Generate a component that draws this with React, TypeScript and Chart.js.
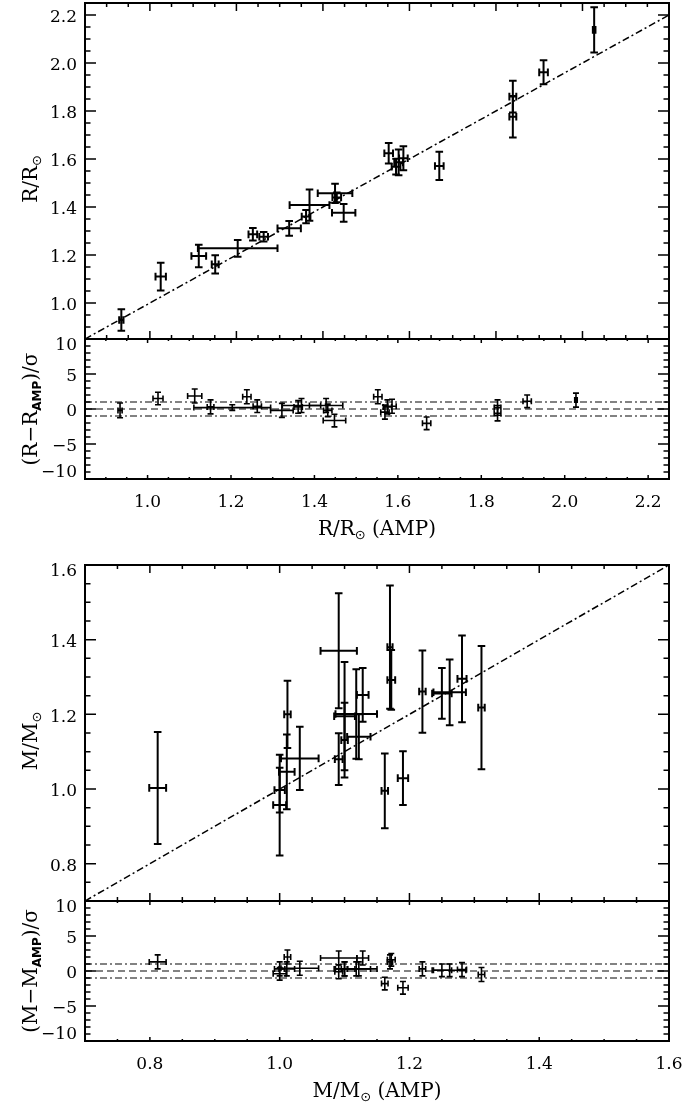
import React, { useEffect, useRef } from "react";
import { Chart, registerables } from "chart.js";

Chart.register(...registerables);

// ---------------- Radius comparison (top half) ----------------
const rAmp = [0.934, 1.025, 1.113, 1.151, 1.203, 1.238, 1.263, 1.322, 1.361, 1.369, 1.428, 1.432, 1.448, 1.552, 1.569, 1.575, 1.586, 1.669, 1.839, 1.839, 1.91, 2.027];
const rAmpErr = [0.005, 0.012, 0.017, 0.008, 0.092, 0.01, 0.01, 0.027, 0.01, 0.046, 0.04, 0.01, 0.027, 0.01, 0.01, 0.01, 0.01, 0.01, 0.008, 0.008, 0.01, 0.003];
const rObs = [0.929, 1.11, 1.196, 1.161, 1.228, 1.286, 1.276, 1.311, 1.36, 1.408, 1.457, 1.44, 1.376, 1.624, 1.568, 1.586, 1.603, 1.571, 1.86, 1.776, 1.961, 2.138];
const rObsErr = [0.045, 0.058, 0.047, 0.038, 0.035, 0.026, 0.02, 0.031, 0.028, 0.065, 0.04, 0.02, 0.037, 0.043, 0.033, 0.054, 0.05, 0.059, 0.066, 0.086, 0.05, 0.094];
const rResid = [-0.2, 1.5, 1.85, 0.3, 0.2, 1.75, 0.4, -0.2, 0.3, 0.5, 0.5, -0.2, -1.65, 1.75, -0.45, 0.3, 0.4, -2.05, 0.2, -0.6, 1.1, 1.27];
const rResidErr = [1.05, 0.9, 1.0, 1.0, 0.4, 1.0, 0.9, 1.0, 0.9, 1.0, 1.0, 0.9, 0.9, 1.0, 1.0, 1.0, 1.0, 0.9, 1.1, 1.1, 0.9, 1.0];

// ---------------- Mass comparison (bottom half) ----------------
const mAmp = [0.812, 1.0, 1.0, 1.011, 1.012, 1.031, 1.091, 1.091, 1.1, 1.1, 1.128, 1.118, 1.122, 1.17, 1.172, 1.162, 1.19, 1.22, 1.25, 1.262, 1.281, 1.311];
const mAmpErr = [0.013, 0.01, 0.008, 0.012, 0.005, 0.029, 0.028, 0.006, 0.016, 0.005, 0.009, 0.032, 0.018, 0.004, 0.006, 0.005, 0.008, 0.005, 0.015, 0.025, 0.007, 0.005];
const mObs = [1.003, 0.957, 0.997, 1.046, 1.2, 1.082, 1.37, 1.08, 1.195, 1.131, 1.252, 1.201, 1.14, 1.38, 1.292, 0.995, 1.029, 1.261, 1.256, 1.259, 1.295, 1.218];
const mObsErr = [0.15, 0.135, 0.06, 0.1, 0.09, 0.085, 0.154, 0.069, 0.145, 0.1, 0.072, 0.12, 0.06, 0.165, 0.08, 0.1, 0.072, 0.11, 0.068, 0.088, 0.116, 0.165];
const mResid = [1.3, -0.4, 0.3, 0.3, 2.0, 0.4, 1.86, -0.1, 0.3, 0.3, 1.86, 0.3, 0.3, 1.3, 1.6, -1.8, -2.4, 0.3, 0.1, 0.1, 0.2, -0.5];
const mResidErr = [1.0, 0.9, 1.0, 1.0, 1.0, 1.0, 1.0, 1.0, 1.0, 1.0, 1.0, 1.0, 1.0, 1.0, 0.9, 0.9, 0.9, 1.0, 0.9, 0.9, 1.0, 1.0];

// ---------------- Axes ----------------
const rTicks = [1.0, 1.2, 1.4, 1.6, 1.8, 2.0, 2.2];
const mTicks = [0.8, 1.0, 1.2, 1.4, 1.6];
const residTicks = [-10, -5, 0, 5, 10];
const rMainX = [0.85, 2.2];
const rMainY = [0.85, 2.25];
const rResX = [0.85, 2.25];
const mRange = [0.7, 1.6];
const residRange = [-10, 10];
const oneToOneR = [0.85, 2.2];
const oneToOneM = [0.7, 1.6];
const sigmaLevels = [-1, 0, 1];

const SERIF = '"DejaVu Serif", "Liberation Serif", serif';
const SANS = '"DejaVu Sans", "Liberation Sans", sans-serif';
const W = 685;
const PLOT_LEFT = 85;
const PLOT_RIGHT = 669;
const TITLE = 20;

type Seg = { t: string; size: number; family?: string; weight?: string; dy?: number };
type RefLine = { x: number[]; y: number[]; dash: number[]; color: string; width: number };

interface Panel {
  key: string;
  top: number;
  height: number;
  padTop: number;
  padBottom: number;
  xMin: number;
  xMax: number;
  yMin: number;
  yMax: number;
  xMajor: number[];
  xMinorStep: number;
  xTickLen: [number, number];
  showXLabels: boolean;
  xFmt: (v: number) => string;
  yMajor: number[];
  yMinorStep: number;
  yTickLen: [number, number];
  yFmt: (v: number) => string;
  xs: number[];
  ys: number[];
  xe: number[];
  ye: number[];
  barWidth: number;
  cap: number;
  lines: RefLine[];
  yTitle: Seg[];
  yTitleShift: number;
  xTitle?: Seg[];
}

const fmt1 = (v: number) => v.toFixed(1);
const fmtInt = (v: number) => (v < 0 ? "\u2212" + Math.abs(v) : String(v));

const sigmaLines = (xr: number[]): RefLine[] =>
  sigmaLevels.map((lv) => ({
    x: xr,
    y: [lv, lv],
    dash: lv === 0 ? [7, 4] : [7, 3, 2, 3],
    color: "#5a5a5a",
    width: 1.4,
  }));

const panels: Panel[] = [
  {
    key: "rMain",
    top: 0,
    height: 346,
    padTop: 3,
    padBottom: 7,
    xMin: rMainX[0],
    xMax: rMainX[1],
    yMin: rMainY[0],
    yMax: rMainY[1],
    xMajor: rTicks,
    xMinorStep: 0.05,
    xTickLen: [8, 4],
    showXLabels: false,
    xFmt: fmt1,
    yMajor: rTicks,
    yMinorStep: 0.05,
    yTickLen: [11, 5.5],
    yFmt: fmt1,
    xs: rAmp,
    ys: rObs,
    xe: rAmpErr,
    ye: rObsErr,
    barWidth: 2,
    cap: 3.8,
    lines: [{ x: oneToOneR, y: oneToOneR, dash: [7, 3, 2, 3], color: "#000", width: 1.5 }],
    yTitle: [
      { t: "R/R", size: TITLE },
      { t: "\u2299", size: 13, family: SANS, dy: 4 },
    ],
    yTitleShift: 8,
  },
  {
    key: "rRes",
    top: 330,
    height: 210,
    padTop: 9,
    padBottom: 61,
    xMin: rResX[0],
    xMax: rResX[1],
    yMin: residRange[0],
    yMax: residRange[1],
    xMajor: rTicks,
    xMinorStep: 0.05,
    xTickLen: [4, 2],
    showXLabels: true,
    xFmt: fmt1,
    yMajor: residTicks,
    yMinorStep: 1,
    yTickLen: [11, 5.5],
    yFmt: fmtInt,
    xs: rAmp,
    ys: rResid,
    xe: rAmpErr,
    ye: rResidErr,
    barWidth: 1.6,
    cap: 3,
    lines: sigmaLines(rResX),
    yTitle: [
      { t: "(R\u2212R", size: TITLE },
      { t: "AMP", size: 12, family: SANS, weight: "bold", dy: 4 },
      { t: ")/\u03c3", size: TITLE },
    ],
    yTitleShift: 0,
    xTitle: [
      { t: "R/R", size: TITLE },
      { t: "\u2299", size: 13, family: SANS, dy: 4 },
      { t: " (AMP)", size: TITLE },
    ],
  },
  {
    key: "mMain",
    top: 545,
    height: 362,
    padTop: 20,
    padBottom: 6,
    xMin: mRange[0],
    xMax: mRange[1],
    yMin: mRange[0],
    yMax: mRange[1],
    xMajor: mTicks,
    xMinorStep: 0.05,
    xTickLen: [8, 4],
    showXLabels: false,
    xFmt: fmt1,
    yMajor: mTicks,
    yMinorStep: 0.05,
    yTickLen: [11, 5.5],
    yFmt: fmt1,
    xs: mAmp,
    ys: mObs,
    xe: mAmpErr,
    ye: mObsErr,
    barWidth: 2,
    cap: 3.8,
    lines: [{ x: oneToOneM, y: oneToOneM, dash: [7, 3, 2, 3], color: "#000", width: 1.5 }],
    yTitle: [
      { t: "M/M", size: TITLE },
      { t: "\u2299", size: 13, family: SANS, dy: 4 },
    ],
    yTitleShift: 8,
  },
  {
    key: "mRes",
    top: 892,
    height: 212,
    padTop: 9,
    padBottom: 63,
    xMin: mRange[0],
    xMax: mRange[1],
    yMin: residRange[0],
    yMax: residRange[1],
    xMajor: mTicks,
    xMinorStep: 0.05,
    xTickLen: [4, 2],
    showXLabels: true,
    xFmt: fmt1,
    yMajor: residTicks,
    yMinorStep: 1,
    yTickLen: [11, 5.5],
    yFmt: fmtInt,
    xs: mAmp,
    ys: mResid,
    xe: mAmpErr,
    ye: mResidErr,
    barWidth: 1.6,
    cap: 3,
    lines: sigmaLines(mRange),
    yTitle: [
      { t: "(M\u2212M", size: TITLE },
      { t: "AMP", size: 12, family: SANS, weight: "bold", dy: 4 },
      { t: ")/\u03c3", size: TITLE },
    ],
    yTitleShift: 0,
    xTitle: [
      { t: "M/M", size: TITLE },
      { t: "\u2299", size: 13, family: SANS, dy: 4 },
      { t: " (AMP)", size: TITLE },
    ],
  },
];

function drawRich(ctx: CanvasRenderingContext2D, segs: Seg[], cx: number, cy: number, rotate: boolean) {
  ctx.save();
  ctx.translate(cx, cy);
  if (rotate) ctx.rotate(-Math.PI / 2);
  ctx.textAlign = "left";
  ctx.textBaseline = "alphabetic";
  ctx.fillStyle = "#000";
  const fontOf = (s: Seg) => `${s.weight || "normal"} ${s.size}px ${s.family || SERIF}`;
  let total = 0;
  const ws = segs.map((s) => {
    ctx.font = fontOf(s);
    const w = ctx.measureText(s.t).width;
    total += w;
    return w;
  });
  let x = -total / 2;
  const base = segs[0].size * 0.36;
  segs.forEach((s, i) => {
    ctx.font = fontOf(s);
    ctx.fillText(s.t, x, base + (s.dy || 0));
    x += ws[i];
  });
  ctx.restore();
}

function stepValues(min: number, max: number, step: number): number[] {
  const out: number[] = [];
  const k0 = Math.ceil(min / step - 1e-6);
  const k1 = Math.floor(max / step + 1e-6);
  for (let k = k0; k <= k1; k++) out.push(+(k * step).toFixed(6));
  return out;
}

function makeDecor(p: Panel) {
  return {
    id: "decor_" + p.key,
    afterDatasetsDraw(chart: any) {
      const { ctx, chartArea: a } = chart;
      const xs = chart.scales.x;
      const ys = chart.scales.y;
      ctx.save();
      ctx.beginPath();
      ctx.rect(a.left, a.top, a.right - a.left, a.bottom - a.top);
      ctx.clip();
      ctx.strokeStyle = "#000";
      ctx.lineWidth = p.barWidth;
      ctx.lineCap = "butt";
      const pts = chart.data.datasets[0].data as any[];
      const c = p.cap;
      for (const pt of pts) {
        const px = xs.getPixelForValue(pt.x);
        const py = ys.getPixelForValue(pt.y);
        const x0 = xs.getPixelForValue(pt.x - pt.xe);
        const x1 = xs.getPixelForValue(pt.x + pt.xe);
        const y0 = ys.getPixelForValue(pt.y - pt.ye);
        const y1 = ys.getPixelForValue(pt.y + pt.ye);
        ctx.beginPath();
        ctx.moveTo(x0, py);
        ctx.lineTo(x1, py);
        ctx.moveTo(px, y0);
        ctx.lineTo(px, y1);
        ctx.moveTo(x0, py - c);
        ctx.lineTo(x0, py + c);
        ctx.moveTo(x1, py - c);
        ctx.lineTo(x1, py + c);
        ctx.moveTo(px - c, y0);
        ctx.lineTo(px + c, y0);
        ctx.moveTo(px - c, y1);
        ctx.lineTo(px + c, y1);
        ctx.stroke();
      }
      ctx.restore();
    },
    afterDraw(chart: any) {
      const { ctx, chartArea: a } = chart;
      const xs = chart.scales.x;
      const ys = chart.scales.y;
      const isMajor = (v: number, majors: number[]) => majors.some((m) => Math.abs(m - v) < 1e-6);
      ctx.save();
      ctx.strokeStyle = "#000";
      ctx.lineWidth = 1.5;
      ctx.beginPath();
      for (const v of stepValues(p.yMin, p.yMax, p.yMinorStep)) {
        const y = ys.getPixelForValue(v);
        const len = isMajor(v, p.yMajor) ? p.yTickLen[0] : p.yTickLen[1];
        ctx.moveTo(a.left, y);
        ctx.lineTo(a.left + len, y);
        ctx.moveTo(a.right, y);
        ctx.lineTo(a.right - len, y);
      }
      for (const v of stepValues(p.xMin, p.xMax, p.xMinorStep)) {
        const x = xs.getPixelForValue(v);
        const len = isMajor(v, p.xMajor) ? p.xTickLen[0] : p.xTickLen[1];
        ctx.moveTo(x, a.bottom);
        ctx.lineTo(x, a.bottom - len);
        ctx.moveTo(x, a.top);
        ctx.lineTo(x, a.top + len);
      }
      ctx.stroke();
      ctx.lineWidth = 2;
      ctx.strokeRect(a.left, a.top, a.right - a.left, a.bottom - a.top);

      ctx.fillStyle = "#000";
      ctx.font = `17px ${SERIF}`;
      ctx.textAlign = "right";
      ctx.textBaseline = "middle";
      for (const v of p.yMajor) {
        const y = ys.getPixelForValue(v);
        const yy = Math.min(Math.max(y + 3, a.top + 7), a.bottom - 6);
        ctx.fillText(p.yFmt(v), a.left - 8, yy);
      }
      if (p.showXLabels) {
        ctx.textAlign = "center";
        for (const v of p.xMajor) {
          ctx.fillText(p.xFmt(v), xs.getPixelForValue(v), a.bottom + 24);
        }
      }
      drawRich(ctx, p.yTitle, 30, (a.top + a.bottom) / 2 + p.yTitleShift, true);
      if (p.xTitle) drawRich(ctx, p.xTitle, (a.left + a.right) / 2, a.bottom + 49, false);
      ctx.restore();
    },
  };
}

function PanelChart({ p }: { p: Panel }) {
  const ref = useRef<HTMLCanvasElement>(null);
  useEffect(() => {
    if (!ref.current) return;
    const chart = new Chart(ref.current, {
      type: "scatter",
      data: {
        datasets: [
          {
            data: p.xs.map((x, i) => ({ x, y: p.ys[i], xe: p.xe[i], ye: p.ye[i] })) as any,
            pointRadius: 0,
            pointHoverRadius: 0,
            showLine: false,
          },
          ...p.lines.map((l) => ({
            data: l.x.map((x, i) => ({ x, y: l.y[i] })),
            showLine: true,
            pointRadius: 0,
            pointHoverRadius: 0,
            borderColor: l.color,
            borderWidth: l.width,
            borderDash: l.dash,
            fill: false,
            tension: 0,
          })),
        ],
      },
      options: {
        animation: false,
        responsive: false,
        maintainAspectRatio: false,
        events: [],
        layout: { padding: { left: PLOT_LEFT, right: W - PLOT_RIGHT, top: p.padTop, bottom: p.padBottom } },
        plugins: { legend: { display: false }, tooltip: { enabled: false }, title: { display: false } },
        scales: {
          x: { type: "linear", display: false, min: p.xMin, max: p.xMax, bounds: "data" },
          y: { type: "linear", display: false, min: p.yMin, max: p.yMax, bounds: "data" },
        },
      } as any,
      plugins: [makeDecor(p)],
    });
    return () => chart.destroy();
  }, []);
  return (
    <canvas
      ref={ref}
      width={W}
      height={p.height}
      style={{ position: "absolute", left: 0, top: p.top, width: W, height: p.height, display: "block" }}
    />
  );
}

export default function App() {
  return (
    <div style={{ position: "absolute", left: 0, top: 0, width: W, height: 1104, background: "#fff", overflow: "hidden" }}>
      {panels.map((p) => (
        <PanelChart key={p.key} p={p} />
      ))}
    </div>
  );
}
